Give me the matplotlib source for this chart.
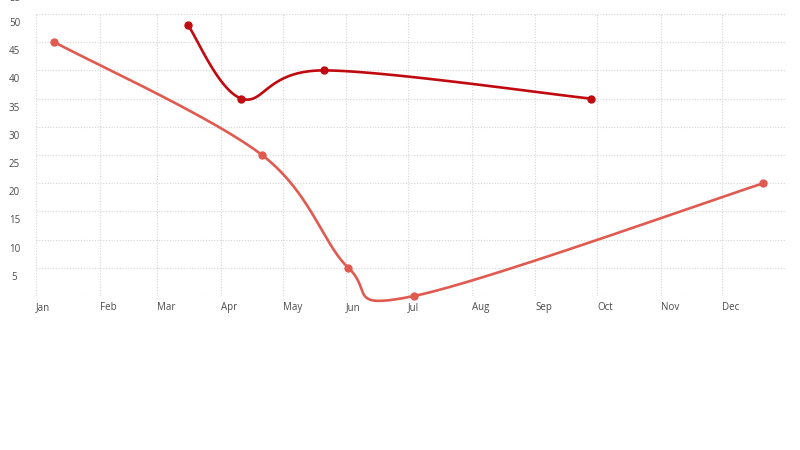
#!/usr/bin/env python3
"""Two smoothed monthly series on a date axis."""

import datetime as dt

import matplotlib

matplotlib.use("Agg")
import matplotlib.dates as mdates
import matplotlib.pyplot as plt
import numpy as np
from matplotlib.transforms import ScaledTranslation

YEAR = 2023

light_dates = ["2023-01-10", "2023-04-21", "2023-06-02", "2023-07-04", "2023-12-21"]
light_values = [45, 25, 5, 0, 20]

dark_dates = ["2023-03-16", "2023-04-11", "2023-05-21", "2023-09-28"]
dark_values = [48, 35, 40, 35]

month_labels = ["Jan", "Feb", "Mar", "Apr", "May", "Jun",
                "Jul", "Aug", "Sep", "Oct", "Nov", "Dec"]
y_ticks = list(range(0, 55, 5))

LIGHT = "#e05a50"
DARK = "#c00a0f"
GRID = "#d6d6d6"
TEXT = "#4a4a4a"


def catmull_rom(xs, ys, steps=40):
    pts = np.column_stack([xs, ys]).astype(float)
    pts = np.vstack([pts[0], pts, pts[-1]])
    out = []
    for i in range(1, len(pts) - 2):
        p0, p1, p2, p3 = pts[i - 1], pts[i], pts[i + 1], pts[i + 2]
        m1 = (p2 - p0) / 2.0
        m2 = (p3 - p1) / 2.0
        t = np.linspace(0, 1, steps)[:, None]
        h00 = 2 * t**3 - 3 * t**2 + 1
        h10 = t**3 - 2 * t**2 + t
        h01 = -2 * t**3 + 3 * t**2
        h11 = t**3 - t**2
        out.append(h00 * p1 + h10 * m1 + h01 * p2 + h11 * m2)
    seg = np.vstack(out)
    return seg[:, 0], seg[:, 1]


def to_num(dates):
    return mdates.date2num([dt.date.fromisoformat(d) for d in dates])


def main():
    plt.rcParams["font.family"] = ["Open Sans", "DejaVu Sans"]
    fig = plt.figure(figsize=(8, 4.5), dpi=100)
    ax = fig.add_axes([36 / 800, 154 / 450, 750 / 800, 282 / 450])

    for dates, values, color in ((light_dates, light_values, LIGHT),
                                 (dark_dates, dark_values, DARK)):
        x = to_num(dates)
        sx, sy = catmull_rom(x, values)
        ax.plot(sx, sy, color=color, linewidth=1.9, solid_capstyle="round",
                zorder=3, clip_on=False)
        ax.plot(x, values, "o", color=color, markersize=5, zorder=4, clip_on=False)

    start = mdates.date2num(dt.date(YEAR, 1, 1))
    end = mdates.date2num(dt.date(YEAR + 1, 1, 1))
    ax.set_xlim(start, end)
    ax.set_ylim(0, 50)

    month_starts = [mdates.date2num(dt.date(YEAR, m, 1)) for m in range(1, 13)] + [end]
    ax.set_xticks(month_starts)
    ax.set_xticklabels(month_labels + [""])
    ax.set_yticks(y_ticks)
    ax.set_yticklabels([""] + [str(v) for v in y_ticks[1:]])

    ax.tick_params(axis="both", length=0, labelsize=7, labelcolor=TEXT)
    ax.tick_params(axis="x", pad=4.5)
    ax.tick_params(axis="y", pad=15.5)
    for lab in ax.get_xticklabels():
        lab.set_horizontalalignment("left")
    shift = ScaledTranslation(0, -8 / 100, fig.dpi_scale_trans)
    for lab in ax.get_yticklabels():
        lab.set_horizontalalignment("center")
        lab.set_transform(lab.get_transform() + shift)

    # top label sits mostly outside the figure, as in the source
    ax.annotate("55", xy=(0, 50), xycoords=("axes fraction", "data"),
                xytext=(-15.5, 11), textcoords="offset points",
                ha="center", va="center", fontsize=7, color=TEXT,
                annotation_clip=False)

    ax.grid(True, color=GRID, linestyle=(0, (1, 1.5)), linewidth=0.8)
    ax.set_axisbelow(True)
    for spine in ax.spines.values():
        spine.set_visible(False)

    fig.savefig("out.png", dpi=100)


if __name__ == "__main__":
    main()
